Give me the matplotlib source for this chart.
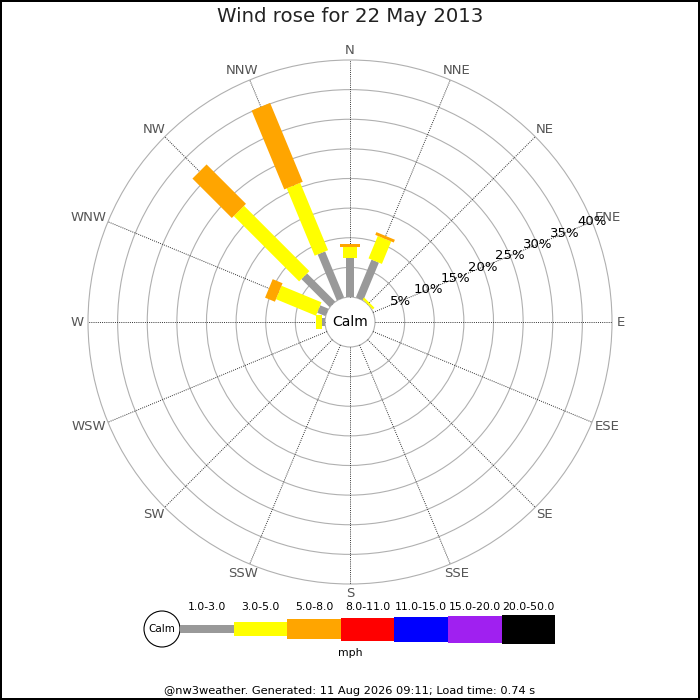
import numpy as np
import matplotlib
matplotlib.use("Agg")
import matplotlib.pyplot as plt
from matplotlib.patches import Polygon, Circle, Rectangle

# data: percent of time per direction and speed bin
directions = ["N", "NNE", "NE", "ENE", "E", "ESE", "SE", "SSE",
              "S", "SSW", "SW", "WSW", "W", "WNW", "NW", "NNW"]
speed_bins = ["1.0-3.0", "3.0-5.0", "5.0-8.0", "8.0-11.0",
              "11.0-15.0", "15.0-20.0", "20.0-50.0"]
bin_colors = ["#999999", "#ffff00", "#ffa500", "#ff0000",
              "#0000ff", "#a020f0", "#000000"]
pct_1_3 = [6.6, 6.9, 0, 0, 0, 0, 0, 0, 0, 0, 0, 0, 0.55, 1.5, 6.7, 8.4]
pct_3_5 = [1.9, 4.1, 0.4, 0, 0, 0, 0, 0, 0, 0, 0, 0, 0.95, 7.3, 15.6, 12.3]
pct_5_8 = [0.4, 0.5, 0, 0, 0, 0, 0, 0, 0, 0, 0, 0, 0, 1.8, 9.4, 14.4]
ring_pcts = [5, 10, 15, 20, 25, 30, 35, 40]
title = "Wind rose for 22 May 2013"
footer = "@nw3weather. Generated: 11 Aug 2026 09:11; Load time: 0.74 s"

# geometry (pixels)
CALM_R = 25
PX_PER_PCT = 237 / 40.0
bar_w = [8, 14.5, 20, 23, 25, 27, 29]

def rad(p):
    return CALM_R + p * PX_PER_PCT

fig = plt.figure(figsize=(7, 7), dpi=100, linewidth=1.5, edgecolor="black")
ax = fig.add_axes([0, 0, 1, 1])
ax.set_xlim(-350, 350)
ax.set_ylim(-378, 322)
ax.axis("off")

# rings
for p in ring_pcts:
    ax.add_patch(Circle((0, 0), rad(p), fill=False, ec="#b0b0b0", lw=0.8, zorder=1))
ax.add_patch(Circle((0, 0), CALM_R, fill=True, fc="white", ec="#b0b0b0", lw=0.8, zorder=1))

# spokes + direction labels (pushed out by half their size)
R_out = rad(ring_pcts[-1])
renderer = fig.canvas.get_renderer()
for i, d in enumerate(directions):
    th = np.deg2rad(i * 22.5)
    u = np.array([np.sin(th), np.cos(th)])
    ax.plot([CALM_R * u[0], R_out * u[0]], [CALM_R * u[1], R_out * u[1]],
            color="#333333", lw=0.7, ls=(0, (1, 1.2)), zorder=1)
    t = ax.text(0, 0, d, ha="center", va="center", fontsize=9.5, color="#555555")
    bb = t.get_window_extent(renderer)
    w, h = bb.width * 0.9, bb.height * 0.75
    t.set_position((267 * u[0] + w / 2 * u[0], 267 * u[1] + h / 2 * u[1]))

# percent labels along ENE
th = np.deg2rad(67.5)
for p in ring_pcts:
    ax.text(rad(p) * np.sin(th), rad(p) * np.cos(th), "%d%%" % p,
            ha="center", va="center", fontsize=9.5, color="black", zorder=4)

# bars
series = [pct_1_3, pct_3_5, pct_5_8]
for i in range(len(directions)):
    th = np.deg2rad(i * 22.5)
    u = np.array([np.sin(th), np.cos(th)])
    pv = np.array([np.cos(th), -np.sin(th)])
    cum = 0
    for b, s in enumerate(series):
        v = s[i]
        if v <= 0:
            continue
        r0, r1 = rad(cum), rad(cum + v)
        h = bar_w[b] / 2
        pts = [r0 * u - h * pv, r1 * u - h * pv, r1 * u + h * pv, r0 * u + h * pv]
        ax.add_patch(Polygon(pts, closed=True, fc=bin_colors[b], ec="none", zorder=3))
        cum += v

ax.text(0, 0, "Calm", ha="center", va="center", fontsize=10, zorder=5)

# title
ax.text(0, 305, title, ha="center", va="center", fontsize=14.2, color="#222222")

# legend
ly = 322 - 629
lx0 = -170
seg = 53.6
ax.add_patch(Circle((-188, ly), 18, fill=True, fc="white", ec="black", lw=0.8, zorder=3))
ax.text(-188, ly, "Calm", ha="center", va="center", fontsize=7.5, zorder=4)
for b, lab in enumerate(speed_bins):
    x = lx0 + b * seg
    ax.add_patch(Rectangle((x, ly - bar_w[b] / 2), seg, bar_w[b],
                           fc=bin_colors[b], ec="none", zorder=3))
    ax.text(x + seg / 2, 322 - 606.5, lab, ha="center", va="center", fontsize=7.8)
ax.text(0, 322 - 653, "mph", ha="center", va="center", fontsize=7.8)

ax.text(0, 322 - 691, footer, ha="center", va="center", fontsize=8.2)

fig.savefig("out.png", dpi=100, edgecolor=fig.get_edgecolor())
